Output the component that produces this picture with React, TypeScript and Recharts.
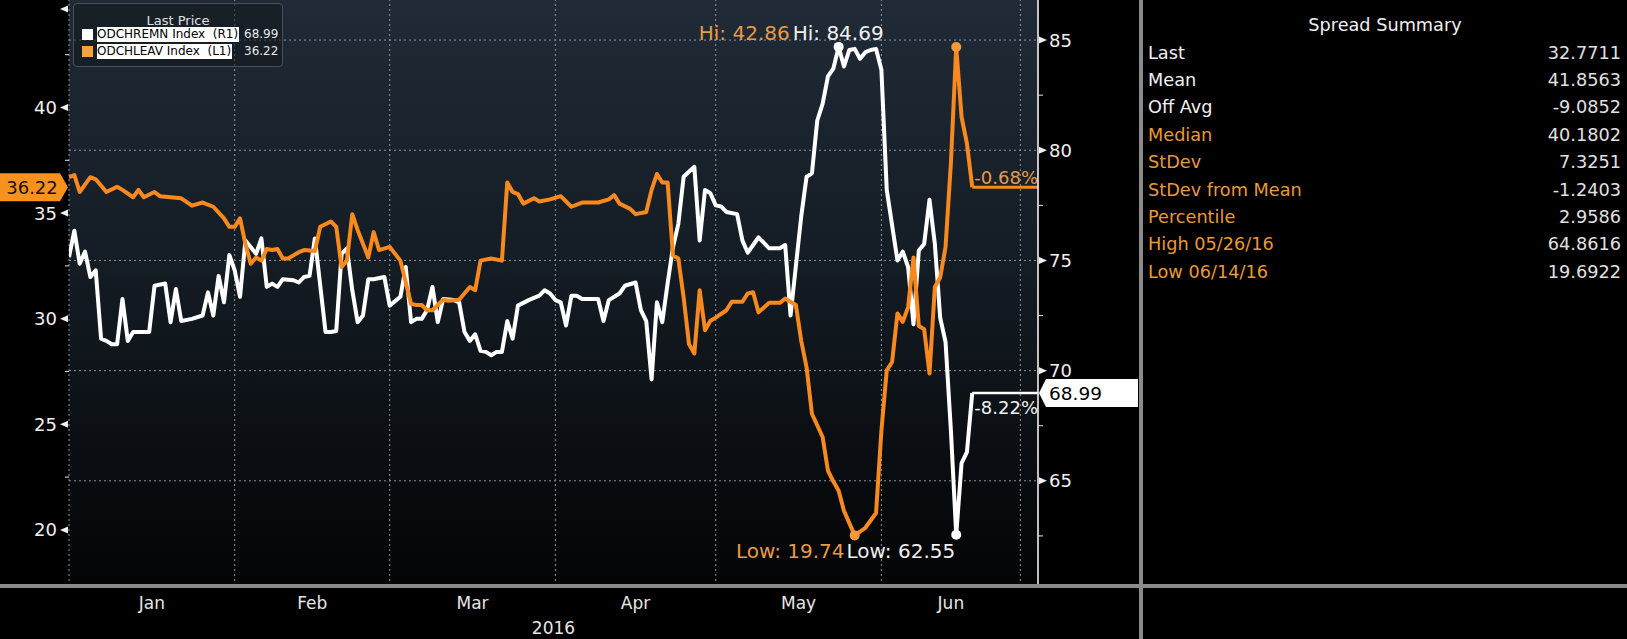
import React from "react";
import { ComposedChart, Line, XAxis, YAxis, CartesianGrid, ReferenceLine, ReferenceDot } from "recharts";

// x = days counted from 1 Jan 2016 (day 0)
const orangeDays = [
  -1, 0, 1, 3, 4, 6, 8, 9, 11, 12,
  13, 15, 16, 18, 20, 22, 24, 26, 28, 29,
  30, 31, 32, 33, 34, 35, 36, 37, 38, 39,
  40, 42, 43, 45, 46, 48, 49, 50, 51, 52,
  53, 55, 56, 57, 59, 61, 63, 64, 65, 66,
  67, 69, 70, 72, 74, 75, 76, 78, 80, 81,
  82, 83, 84, 86, 87, 89, 91, 93, 95, 98,
  100, 101, 102, 104, 105, 107, 108, 109, 110, 111,
  112, 113, 114, 115, 116, 117, 118, 119, 120, 122,
  123, 125, 126, 127, 128, 130, 132, 133, 135, 136,
  137, 138, 140, 141, 142, 143, 144, 146, 148, 150,
  151, 152, 153, 154, 155, 156, 157, 158, 159, 160,
  161, 162, 163, 164, 165, 166, 167, 168,
];
const orangeVals = [
  36.7, 36.8, 36.0, 36.7, 36.6, 36.0, 36.25, 36.1, 35.75, 36.1,
  35.75, 36.0, 35.8, 35.75, 35.7, 35.35, 35.5, 35.3, 34.75, 34.35,
  34.35, 34.75, 33.55, 32.6, 32.9, 32.75, 33.3, 33.25, 33.3, 32.85,
  32.85, 33.15, 33.25, 33.2, 34.35, 34.6, 34.35, 32.45, 32.75, 34.95,
  34.2, 32.9, 34.1, 33.25, 33.4, 32.75, 30.7, 30.65, 30.65, 30.4,
  30.4, 30.9, 30.85, 30.9, 31.5, 31.35, 32.75, 32.85, 32.75, 36.45,
  36.0, 35.9, 35.45, 35.7, 35.55, 35.65, 35.8, 35.3, 35.5, 35.5,
  35.65, 35.85, 35.45, 35.2, 34.95, 35.05, 36.1, 36.85, 36.45, 36.45,
  33.0, 32.85, 31.0, 28.8, 28.35, 31.35, 29.45, 29.9, 30.05, 30.4,
  30.8, 30.8, 31.2, 31.25, 30.3, 30.75, 30.75, 30.95, 30.65, 28.95,
  27.7, 25.5, 24.4, 22.8, 22.3, 21.85, 20.9, 19.74, 20.1, 20.8,
  24.7, 27.55, 27.95, 30.25, 29.85, 30.55, 32.9, 29.65, 29.5, 27.4,
  31.5, 31.95, 33.4, 37.35, 42.86, 39.55, 38.3, 36.22,
];

const whiteDays = [
  -1, 0, 1, 2, 3, 4, 5, 6, 7, 8,
  9, 10, 11, 14, 15, 17, 18, 19, 20, 22,
  24, 25, 26, 27, 28, 29, 30, 31, 32, 34,
  35, 36, 37, 38, 39, 41, 42, 43, 44, 45,
  47, 48, 49, 50, 51, 52, 53, 54, 55, 56,
  58, 59, 61, 62, 63, 64, 65, 66, 67, 68,
  69, 71, 72, 73, 74, 75, 76, 77, 78, 79,
  80, 81, 82, 83, 85, 87, 88, 89, 90, 91,
  92, 93, 94, 95, 98, 99, 100, 102, 103, 105,
  106, 107, 108, 109, 110, 111, 112, 113, 114, 116,
  117, 118, 119, 120, 121, 122, 124, 125, 126, 127,
  128, 130, 132, 133, 134, 136, 137, 138, 139, 140,
  141, 142, 143, 144, 145, 146, 147, 148, 149, 150,
  151, 152, 154, 155, 156, 157, 158, 159, 160, 161,
  162, 163, 164, 165, 166, 167, 168,
];
const whiteVals = [
  75.15, 76.35, 74.85, 75.4, 74.25, 74.55, 71.45, 71.35, 71.2, 71.2,
  73.25, 71.35, 71.75, 71.75, 73.85, 73.95, 72.2, 73.7, 72.25, 72.35,
  72.5, 73.55, 72.5, 74.3, 73.1, 75.25, 74.55, 73.35, 75.9, 75.3,
  76.0, 73.8, 73.95, 73.8, 74.15, 74.1, 74.0, 74.25, 74.3, 76.0,
  71.75, 71.75, 71.8, 75.3, 75.55, 73.65, 72.2, 72.5, 74.15, 74.15,
  74.25, 72.95, 73.35, 74.7, 72.2, 72.35, 72.35, 72.75, 73.8, 72.2,
  73.25, 73.2, 73.1, 71.75, 71.35, 71.65, 70.9, 70.85, 70.7, 70.85,
  70.85, 72.25, 71.45, 72.95, 73.2, 73.4, 73.65, 73.5, 73.2, 73.1,
  72.05, 73.4, 73.4, 73.25, 73.25, 72.25, 73.2, 73.5, 73.85, 74.0,
  72.75, 72.25, 69.6, 73.1, 72.2, 73.95, 75.6, 76.65, 78.8, 79.25,
  75.9, 78.2, 78.05, 77.5, 77.45, 77.2, 77.1, 75.9, 75.35, 75.7,
  76.05, 75.55, 75.55, 75.7, 72.5, 77.0, 78.8, 78.95, 81.35, 82.1,
  83.35, 83.7, 84.69, 83.8, 84.55, 84.6, 84.15, 84.45, 84.55, 84.6,
  83.65, 78.2, 75.0, 75.4, 74.7, 72.1, 75.45, 75.75, 77.75, 75.75,
  72.4, 71.3, 67.3, 62.55, 65.8, 66.3, 68.99,
];

const monthGrid = [-1, 30, 59, 90, 120, 151, 177];
const monthNames = ["Jan", "Feb", "Mar", "Apr", "May", "Jun"];
const leftTicks = [20, 22.5, 25, 27.5, 30, 32.5, 35, 37.5, 40, 42.5, 45];
const rightTicks = [62.5, 65, 67.5, 70, 72.5, 75, 77.5, 80, 82.5, 85];
const rightGrid = [65, 70, 75, 80, 85];

const legendNames = ["ODCHREMN Index  (R1)", "ODCHLEAV Index  (L1)"];
const pctChange = ["-8.22%", "-0.68%"];

const summaryLabels = ["Last", "Mean", "Off Avg", "Median", "StDev", "StDev from Mean", "Percentile", "High 05/26/16", "Low 06/14/16"];
const summaryValues = ["32.7711", "41.8563", "-9.0852", "40.1802", "7.3251", "-1.2403", "2.9586", "64.8616", "19.6922"];

const FONT = '"DejaVu Sans", "Open Sans", sans-serif';
const ORANGE = "#f7891f";
const ORANGE_TXT = "#e99a45";
const GRID = "#8d939a";
const X_MIN = -1;
const X_MAX = 180.3;

const orangeData = orangeDays.map((d, i) => ({ d, v: orangeVals[i] }));
const whiteData = whiteDays.map((d, i) => ({ d, v: whiteVals[i] }));
const monthMids = monthGrid.slice(0, -1).map((b, i) => (b + monthGrid[i + 1]) / 2);

const argBy = (arr: number[], better: (a: number, b: number) => boolean) =>
  arr.reduce((best, v, i) => (better(v, arr[best]) ? i : best), 0);
const oHi = argBy(orangeVals, (a, b) => a > b);
const oLo = argBy(orangeVals, (a, b) => a < b);
const wHi = argBy(whiteVals, (a, b) => a > b);
const wLo = argBy(whiteVals, (a, b) => a < b);
const oLast = orangeVals.length - 1;
const wLast = whiteVals.length - 1;

function LeftTick(props: any) {
  const { x, y, payload } = props;
  const v = payload.value;
  if (v % 5 !== 0) return <line x1={x - 4} x2={x} y1={y} y2={y} stroke="#e6e6e6" />;
  return (
    <g>
      <polygon points={`${x - 9},${y} ${x - 1},${y - 3.5} ${x - 1},${y + 3.5}`} fill="#f0f0f0" />
      {y > 12 && (
        <text x={x - 12} y={y + 6.5} textAnchor="end" fill="#f0f0f0" fontSize={18} fontFamily={FONT}>
          {v}
        </text>
      )}
    </g>
  );
}

function RightTick(props: any) {
  const { x, y, payload } = props;
  const v = payload.value;
  if (v % 5 !== 0) return <line x1={x} x2={x + 5} y1={y} y2={y} stroke="#e6e6e6" />;
  return (
    <g>
      <polygon points={`${x + 1},${y - 3.5} ${x + 1},${y + 3.5} ${x + 9},${y}`} fill="#f0f0f0" />
      <text x={x + 11} y={y + 6.5} fill="#f0f0f0" fontSize={18} fontFamily={FONT}>
        {v}
      </text>
    </g>
  );
}

export default function App() {
  return (
    <div style={{ position: "fixed", left: 0, top: 0, width: 1627, height: 639, background: "#000", overflow: "hidden", fontFamily: FONT }}>
      <ComposedChart width={1141} height={639} margin={{ top: 0, right: 0, bottom: 0, left: 0 }}>
        <defs>
          <linearGradient id="plotBg" x1="0" y1="0" x2="0" y2="1">
            <stop offset="0%" stopColor="#202b37" />
            <stop offset="45%" stopColor="#141c24" />
            <stop offset="100%" stopColor="#030405" />
          </linearGradient>
        </defs>
        <CartesianGrid
          xAxisId="b"
          yAxisId="right"
          fill="url(#plotBg)"
          stroke={GRID}
          strokeDasharray="2 3"
          horizontalValues={rightGrid}
          vertical={false}
        />
        <XAxis
          xAxisId="b"
          type="number"
          dataKey="d"
          domain={[X_MIN, X_MAX]}
          ticks={monthGrid}
          tick={false}
          tickSize={7}
          tickLine={{ stroke: "#dcdcdc" }}
          axisLine={{ stroke: "#e8e0b0" }}
          height={7}
          allowDataOverflow
        />
        <XAxis
          xAxisId="m"
          type="number"
          dataKey="d"
          domain={[X_MIN, X_MAX]}
          ticks={monthMids}
          tickFormatter={(v: number) => monthNames[monthMids.indexOf(v)]}
          tickLine={false}
          axisLine={false}
          tickSize={0}
          tickMargin={4}
          tick={{ fill: "#e6e6e6", fontSize: 17, fontFamily: FONT }}
          height={46}
          allowDataOverflow
          label={{ value: "2016", position: "insideBottom", offset: 5, fill: "#e6e6e6", fontSize: 17, fontFamily: FONT }}
        />
        <YAxis
          yAxisId="left"
          type="number"
          domain={[17.344, 45.089]}
          ticks={leftTicks}
          tick={<LeftTick />}
          tickSize={0}
          tickMargin={0}
          tickLine={false}
          axisLine={false}
          width={69}
          allowDataOverflow
        />
        <YAxis
          yAxisId="right"
          orientation="right"
          type="number"
          domain={[60.227, 86.818]}
          ticks={rightTicks}
          tick={<RightTick />}
          tickSize={0}
          tickMargin={0}
          tickLine={false}
          axisLine={{ stroke: "#ffffff", strokeWidth: 1.5 }}
          width={103}
          allowDataOverflow
        />

        {monthGrid.map((m) => (
          <ReferenceLine key={m} xAxisId="b" yAxisId="right" x={m} stroke={GRID} strokeDasharray="2 3" />
        ))}

        <Line xAxisId="b" yAxisId="right" data={whiteData} dataKey="v" type="linear" stroke="#ffffff" strokeWidth={4} strokeLinejoin="round" dot={false} isAnimationActive={false} />
        <Line xAxisId="b" yAxisId="left" data={orangeData} dataKey="v" type="linear" stroke={ORANGE} strokeWidth={4} strokeLinejoin="round" dot={false} isAnimationActive={false} />

        <ReferenceLine
          xAxisId="b"
          yAxisId="left"
          segment={[{ x: orangeDays[oLast], y: orangeVals[oLast] }, { x: X_MAX, y: orangeVals[oLast] }]}
          stroke={ORANGE}
          strokeWidth={3}
          label={(p: any) => (
            <text x={p.viewBox.x + p.viewBox.width} y={p.viewBox.y - 3} textAnchor="end" fill={ORANGE_TXT} fontSize={18} fontFamily={FONT}>
              {pctChange[1]}
            </text>
          )}
        />
        <ReferenceLine
          xAxisId="b"
          yAxisId="right"
          segment={[{ x: whiteDays[wLast], y: whiteVals[wLast] }, { x: X_MAX, y: whiteVals[wLast] }]}
          stroke="#ffffff"
          strokeWidth={2.5}
          label={(p: any) => (
            <text x={p.viewBox.x + p.viewBox.width} y={p.viewBox.y + 21} textAnchor="end" fill="#f0f0f0" fontSize={18} fontFamily={FONT}>
              {pctChange[0]}
            </text>
          )}
        />

        <ReferenceDot
          xAxisId="b"
          yAxisId="left"
          x={X_MIN}
          y={orangeVals[oLast]}
          ifOverflow="visible"
          shape={(p: any) => (
            <g>
              <polygon
                points={`${p.cx - 69},${p.cy - 14} ${p.cx - 9},${p.cy - 14} ${p.cx - 1},${p.cy} ${p.cx - 9},${p.cy + 14} ${p.cx - 69},${p.cy + 14}`}
                fill="#f7921e"
              />
              <text x={p.cx - 37} y={p.cy + 6.5} textAnchor="middle" fill="#1a1008" fontSize={18} fontFamily={FONT}>
                {orangeVals[oLast].toFixed(2)}
              </text>
            </g>
          )}
        />
        <ReferenceDot
          xAxisId="b"
          yAxisId="right"
          x={X_MAX}
          y={whiteVals[wLast]}
          ifOverflow="visible"
          shape={(p: any) => (
            <g>
              <polygon
                points={`${p.cx + 1},${p.cy} ${p.cx + 8},${p.cy - 14} ${p.cx + 100},${p.cy - 14} ${p.cx + 100},${p.cy + 14} ${p.cx + 8},${p.cy + 14}`}
                fill="#ffffff"
              />
              <text x={p.cx + 11} y={p.cy + 7} fill="#000" fontSize={18.5} fontFamily={FONT}>
                {whiteVals[wLast].toFixed(2)}
              </text>
            </g>
          )}
        />

        <ReferenceDot xAxisId="b" yAxisId="left" x={orangeDays[oHi]} y={orangeVals[oHi]} r={5} fill="#f59a3c" stroke="none" ifOverflow="visible" />
        <ReferenceDot xAxisId="b" yAxisId="left" x={orangeDays[oLo]} y={orangeVals[oLo]} r={5} fill="#f59a3c" stroke="none" ifOverflow="visible" />
        <ReferenceDot
          xAxisId="b"
          yAxisId="right"
          x={whiteDays[wHi]}
          y={whiteVals[wHi]}
          ifOverflow="visible"
          shape={(p: any) => (
            <g>
              <circle cx={p.cx} cy={p.cy} r={5} fill="#ffffff" />
              <text x={p.cx + 45} y={p.cy - 6.5} textAnchor="end" fontSize={20} fontFamily={FONT}>
                <tspan fill={ORANGE_TXT}>{"Hi: " + orangeVals[oHi].toFixed(2)}</tspan>
                <tspan fill="#f0f0f0" dx={3}>{"Hi: " + whiteVals[wHi].toFixed(2)}</tspan>
              </text>
            </g>
          )}
        />
        <ReferenceDot
          xAxisId="b"
          yAxisId="right"
          x={whiteDays[wLo]}
          y={whiteVals[wLo]}
          ifOverflow="visible"
          shape={(p: any) => (
            <g>
              <circle cx={p.cx} cy={p.cy} r={5} fill="#ffffff" />
              <text x={p.cx - 1} y={p.cy + 23.5} textAnchor="end" fontSize={20} fontFamily={FONT}>
                <tspan fill={ORANGE_TXT}>{"Low: " + orangeVals[oLo].toFixed(2)}</tspan>
                <tspan fill="#f0f0f0" dx={2}>{"Low: " + whiteVals[wLo].toFixed(2)}</tspan>
              </text>
            </g>
          )}
        />
      </ComposedChart>

      {/* legend */}
      <div
        style={{
          position: "absolute",
          left: 73,
          top: 3,
          width: 210,
          height: 64,
          border: "1px solid #4a5058",
          borderRadius: 4,
          background: "rgba(16,22,28,0.55)",
          boxSizing: "border-box",
          fontSize: 12,
        }}
      >
        <div style={{ position: "absolute", top: 9, width: "100%", textAlign: "center", fontSize: 13, lineHeight: "15px", color: "#e0e0e0" }}>
          Last Price
        </div>
        {legendNames.map((name, i) => (
          <React.Fragment key={name}>
            <div style={{ position: "absolute", left: 8, top: 25 + i * 16.5, width: 11, height: 11, background: i === 0 ? "#ffffff" : "#f5a23e" }} />
            <div
              style={{
                position: "absolute",
                left: 23,
                top: 23 + i * 16.5,
                height: 15,
                lineHeight: "15px",
                background: "#ffffff",
                color: "#000",
                whiteSpace: "pre",
                paddingRight: 1,
              }}
            >
              {name}
            </div>
            <div style={{ position: "absolute", left: 170, top: 23 + i * 16.5, lineHeight: "15px", color: "#e8e8e8" }}>
              {i === 0 ? whiteVals[wLast].toFixed(2) : orangeVals[oLast].toFixed(2)}
            </div>
          </React.Fragment>
        ))}
      </div>

      {/* bottom band and panel divider */}
      <div style={{ position: "absolute", left: 0, top: 584, width: 1627, height: 4, background: "#8a8a8a" }} />
      <div style={{ position: "absolute", left: 1139, top: 0, width: 4, height: 639, background: "#8a8a8a" }} />

      {/* spread summary */}
      <div style={{ position: "absolute", left: 1143, top: 0, width: 484, fontSize: 17.7, color: "#e6e6e6" }}>
        <div style={{ position: "absolute", top: 12, width: "100%", textAlign: "center", lineHeight: "27.4px", color: "#f0f0f0" }}>Spread Summary</div>
        {summaryLabels.map((lab, i) => (
          <div key={lab} style={{ position: "absolute", top: 39.6 + i * 27.4, left: 5, width: 473, height: 27.4, lineHeight: "27.4px" }}>
            <span style={{ color: i < 3 ? "#f2f2f2" : "#e89a35" }}>{lab}</span>
            <span style={{ position: "absolute", right: 0, color: "#e0e0e0" }}>{summaryValues[i]}</span>
          </div>
        ))}
      </div>
    </div>
  );
}
